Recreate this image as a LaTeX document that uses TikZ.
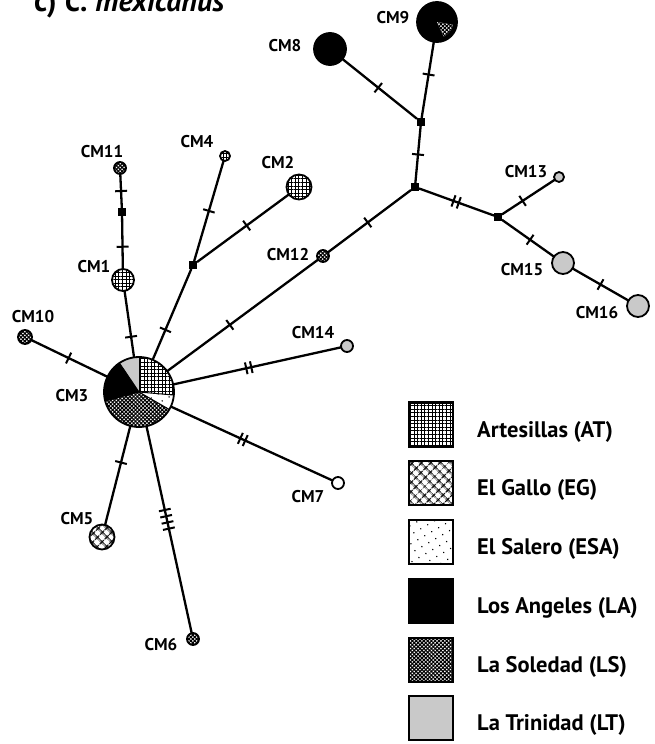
\documentclass[tikz,border=0pt]{standalone}
\usepackage{fontspec}
\setmainfont{PT Sans}
\usetikzlibrary{patterns.meta}
\definecolor{ltgray}{gray}{0.79}
\tikzset{
  hap/.style={circle, draw=black, line width=1.8pt, inner sep=0pt, outer sep=0pt},
  sq/.style={rectangle, fill=black, minimum size=8pt, inner sep=0pt, outer sep=0pt},
  edge/.style={line width=2.3pt, black},
  tk/.style={sloped, rectangle, fill=black, draw=none, minimum width=2pt, minimum height=12pt, inner sep=0pt, outer sep=0pt},
  lab/.style={font=\fontsize{17}{19}\selectfont\bfseries, inner sep=0pt},
  leglab/.style={font=\fontsize{22.5}{24}\selectfont\bfseries, anchor=base west, inner sep=0pt},
  legbox/.style={rectangle, draw=black, line width=2.4pt, minimum size=44pt, inner sep=0pt},
  AT/.style={pattern={Hatch[angle=0,distance=3.6pt,line width=0.8pt]}, pattern color=black},
  EG/.style={pattern={Hatch[angle=45,distance=6.5pt,line width=1.3pt]}, pattern color=black},
  ESA/.style={pattern={Dots[distance=8pt,radius=0.8pt,angle=30]}, pattern color=black},
  LA/.style={fill=black},
  LS/.style={pattern={Hatch[angle=45,distance=2.7pt,line width=1.1pt]}, pattern color=black},
  LT/.style={fill=ltgray},
}
\begin{document}
\begin{tikzpicture}[x=1pt,y=-1pt]
\useasboundingbox (0,0) rectangle (654,744);
\fill[white] (0,0) rectangle (654,744);

% title (cut off at top, as in the reference)
\node[anchor=base west, inner sep=0pt, font=\fontsize{30}{32}\selectfont\bfseries] (title) at (34,11) {c) \textit{C. mexicanus}};

% CM3 pie
\coordinate (c3) at (139,392);
\fill[LT] (c3) -- ++(90:35pt) arc[start angle=90,end angle=124,radius=35pt] -- cycle;
\fill[LA] (c3) -- ++(124:35pt) arc[start angle=124,end angle=195,radius=35pt] -- cycle;
\fill[LS] (c3) -- ++(195:35pt) arc[start angle=195,end angle=330,radius=35pt] -- cycle;
\fill[ESA] (c3) -- ++(330:35pt) arc[start angle=330,end angle=355,radius=35pt] -- cycle;
\fill[AT] (c3) -- ++(355:35pt) arc[start angle=355,end angle=450,radius=35pt] -- cycle;
\foreach \a in {90,124,195,330,355} \draw[line width=1pt] (c3) -- ++(\a:35pt);
\node[hap, minimum size=70pt] (CM3) at (c3) {};

% CM9 (LA with small LS sector)
\node[hap, LA, minimum size=40pt] (CM9) at (437,22) {};
\fill[white] (CM9.center) -- ++(-10:16pt) arc[start angle=-10,end angle=-65,radius=16pt] -- cycle;
\fill[LS] (CM9.center) -- ++(-10:16pt) arc[start angle=-10,end angle=-65,radius=16pt] -- cycle;

% haplotype nodes
\node[hap, LA, minimum size=32pt] (CM8) at (330,49) {};
\node[hap, AT, minimum size=22pt] (CM1) at (123,280) {};
\node[hap, AT, minimum size=25pt] (CM2) at (299,187) {};
\node[hap, AT, minimum size=10pt] (CM4) at (225,156) {};
\node[hap, EG, minimum size=25pt] (CM5) at (102,537) {};
\node[hap, LS, minimum size=12pt] (CM6) at (193,639) {};
\node[hap, fill=white, minimum size=12pt] (CM7) at (338,483) {};
\node[hap, LS, minimum size=14pt] (CM10) at (25,337) {};
\node[hap, LS, minimum size=12pt] (CM11) at (120,168) {};
\node[hap, LS, minimum size=12pt] (CM12) at (323,256) {};
\node[hap, LT, minimum size=10pt] (CM13) at (559,177) {};
\node[hap, LT, minimum size=12pt] (CM14) at (347,346) {};
\node[hap, LT, minimum size=22pt] (CM15) at (563,263) {};
\node[hap, LT, minimum size=22pt] (CM16) at (638,306) {};

% median vectors
\node[sq] (A) at (421,122) {};
\node[sq] (B) at (415,187) {};
\node[sq] (C) at (498,217) {};
\node[sq] (D) at (122,212) {};
\node[sq] (E) at (193,265) {};

% connectors
\draw[edge] (CM9) -- (A) node[tk,pos=0.43]{};
\draw[edge] (CM8) -- (A) node[tk,pos=0.48]{};
\draw[edge] (A) -- (B) node[tk,pos=0.5]{};
\draw[edge] (B) -- (CM12) node[tk,pos=0.52]{};
\draw[edge] (B) -- (C) node[tk,pos=0.46]{} node[tk,pos=0.53]{};
\draw[edge] (C) -- (CM13) node[tk,pos=0.39]{};
\draw[edge] (C) -- (CM15) node[tk,pos=0.54]{};
\draw[edge] (CM15) -- (CM16) node[tk,pos=0.5]{};
\draw[edge] (CM11) -- (D) node[tk,pos=0.5]{};
\draw[edge] (D) -- (CM1) node[tk,pos=0.58]{};
\draw[edge] (CM1) -- (CM3) node[tk,pos=0.69]{};
\draw[edge] (CM4) -- (E) node[tk,pos=0.5]{};
\draw[edge] (E) -- (CM2) node[tk,pos=0.54]{};
\draw[edge] (E) -- (CM3) node[tk,pos=0.67]{};
\draw[edge] (CM12) -- (CM3) node[tk,pos=0.585]{};
\draw[edge] (CM10) -- (CM3) node[tk,pos=0.49]{};
\draw[edge] (CM14) -- (CM3) node[tk,pos=0.535]{} node[tk,pos=0.565]{};
\draw[edge] (CM7) -- (CM3) node[tk,pos=0.54]{} node[tk,pos=0.57]{};
\draw[edge] (CM5) -- (CM3) node[tk,pos=0.63]{};
\draw[edge] (CM6) -- (CM3) node[tk,pos=0.505]{} node[tk,pos=0.535]{} node[tk,pos=0.565]{} node[tk,pos=0.595]{};

% labels
\node[lab] (lCM1) at (94,267) {CM1};
\node[lab] (lCM2) at (278,163) {CM2};
\node[lab] (lCM3) at (72,396) {CM3};
\node[lab] (lCM4) at (197,142) {CM4};
\node[lab] (lCM5) at (77,519) {CM5};
\node[lab] (lCM6) at (161,645) {CM6};
\node[lab] (lCM7) at (308,497) {CM7};
\node[lab] (lCM8) at (285,46) {CM8};
\node[lab] (lCM9) at (393,18) {CM9};
\node[lab] (lCM10) at (33,317) {CM10};
\node[lab] (lCM11) at (102,152) {CM11};
\node[lab] (lCM12) at (288,255) {CM12};
\node[lab] (lCM13) at (526,172) {CM13};
\node[lab] (lCM14) at (313,333) {CM14};
\node[lab] (lCM15) at (522,270) {CM15};
\node[lab] (lCM16) at (597,313) {CM16};

% legend
\node[legbox, AT] (kAT) at (431,424.5) {};
\node[legbox, EG] (kEG) at (431,483) {};
\node[legbox, ESA] (kESA) at (431,542) {};
\node[legbox, LA] (kLA) at (431,601) {};
\node[legbox, LS] (kLS) at (431,660) {};
\node[legbox, LT] (kLT) at (431,718) {};
\node[leglab] (tAT) at (477,437) {Artesillas (AT)};
\node[leglab] (tEG) at (477,495.5) {El Gallo (EG)};
\node[leglab] (tESA) at (477,554.5) {El Salero (ESA)};
\node[leglab] (tLA) at (477,613.5) {Los Angeles (LA)};
\node[leglab] (tLS) at (477,672.5) {La Soledad (LS)};
\node[leglab] (tLT) at (477,730.5) {La Trinidad (LT)};
\end{tikzpicture}
\end{document}
